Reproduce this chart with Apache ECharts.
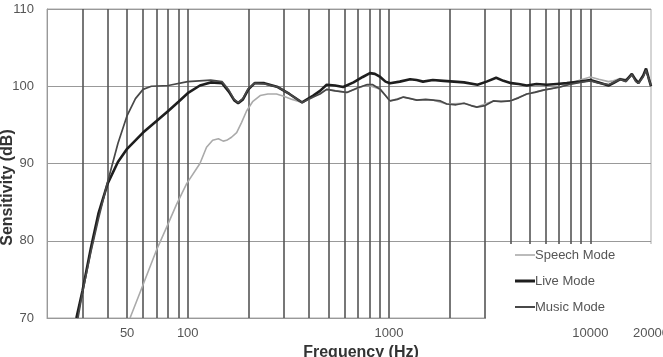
<!DOCTYPE html>
<html>
<head>
<meta charset="utf-8">
<script src="https://cdn.jsdelivr.net/npm/echarts@6/dist/echarts.min.js"></script>
<style>
  html, body { margin: 0; padding: 0; background: #fff; }
  #chart { width: 663px; height: 357px; }
</style>
</head>
<body>
<div id="chart"></div>
<script>
// [frequency Hz, sensitivity dB]
var speechData = [
  [51.7, 70], [60, 74.3], [70, 78.8], [78.7, 81.8], [88, 84.7], [98.8, 87.4], [115, 90],
  [124, 92.1], [133, 93], [142, 93.2], [150, 92.9], [156, 93], [165, 93.4], [175, 94],
  [185, 95.3], [196, 96.8], [210, 98], [229, 98.8], [250, 99], [276, 99], [300, 98.7],
  [330, 98.3], [370, 97.9], [420, 98.6], [490, 99.6], [617, 99.2], [775, 100.2], [904, 99.6],
  [1011, 98.1], [1178, 98.6], [1374, 98.2], [1660, 98.2], [1936, 97.7], [2357, 97.8],
  [2728, 97.3], [3298, 98.1], [3990, 98.1], [4832, 99], [5838, 99.5], [7068, 99.9],
  [8000, 100.4], [8888, 100.8], [10000, 101.2], [11000, 100.9], [12300, 100.6], [13000, 100.7],
  [14030, 101], [15000, 100.9], [16070, 101.4], [17330, 100.6], [18900, 101.9], [20000, 100.3]
];

var liveData = [
  [28, 70], [30, 73.5], [33, 79], [36, 83.5], [40, 87.4], [45, 90.2], [50, 91.9], [60, 94],
  [70, 95.5], [80, 96.8], [90, 98], [100, 99.1], [115, 100.1], [130, 100.5], [148, 100.4],
  [160, 99.3], [170, 98.2], [178, 97.8], [188, 98.3], [200, 99.6], [215, 100.4], [240, 100.4],
  [280, 99.9], [320, 99], [370, 97.9], [420, 98.8], [454, 99.4], [490, 100.2], [540, 100.1],
  [592, 99.9], [666, 100.5], [740, 101.2], [804, 101.7], [850, 101.6], [904, 101.2], [960, 100.6],
  [1011, 100.4], [1130, 100.6], [1272, 100.9], [1370, 100.8], [1474, 100.6], [1650, 100.8],
  [1862, 100.7], [2100, 100.6], [2357, 100.5], [2749, 100.2], [3050, 100.6], [3403, 101.1],
  [3700, 100.7], [4044, 100.4], [4400, 100.3], [4832, 100.1], [5400, 100.3], [6072, 100.2],
  [6800, 100.3], [7632, 100.4], [8888, 100.6], [10000, 100.8], [11000, 100.5], [12300, 100.1],
  [13000, 100.4], [14030, 100.9], [15000, 100.7], [16070, 101.6], [16800, 100.8], [17330, 100.4],
  [18300, 101.4], [18900, 102.3], [19500, 101], [20000, 100]
];

var musicData = [
  [28.5, 70], [30, 73.3], [33, 78.5], [36, 82.8], [40, 87.6], [45, 92.6], [50, 96.2], [55, 98.4],
  [60, 99.6], [66, 100], [80, 100.1], [100, 100.6], [130, 100.8], [148, 100.6], [160, 99.5],
  [170, 98.3], [178, 97.9], [188, 98.4], [200, 99.7], [215, 100.4], [240, 100.3], [280, 99.9],
  [320, 99], [370, 97.9], [420, 98.6], [454, 99], [490, 99.6], [540, 99.4], [617, 99.2],
  [700, 99.8], [775, 100.2], [830, 100.2], [904, 99.6], [960, 98.8], [1011, 98.1], [1100, 98.3],
  [1178, 98.6], [1280, 98.4], [1374, 98.2], [1520, 98.3], [1660, 98.2], [1800, 98.1],
  [1936, 97.7], [2150, 97.6], [2357, 97.8], [2550, 97.5], [2728, 97.3], [3000, 97.5],
  [3298, 98.1], [3600, 98], [3990, 98.1], [4400, 98.5], [4832, 99], [5300, 99.2], [5838, 99.5],
  [6400, 99.7], [7068, 99.9], [7800, 100.2], [8888, 100.5], [10000, 100.7], [11000, 100.4],
  [12300, 100.2], [13000, 100.5], [14030, 100.9], [15000, 100.6], [16070, 101.5], [16800, 100.6],
  [17330, 100.4], [18300, 101.2], [18900, 102.1], [19500, 100.9], [20000, 100.1]
];

var freqLabels = [50, 100, 1000, 10000, 20000];
var freqGrid = [30, 40, 50, 60, 70, 80, 90, 100, 200, 300, 400, 500, 600, 700, 800, 900,
  1000, 2000, 3000, 4000, 5000, 6000, 7000, 8000, 9000, 10000];

// legend line icons: a horizontal bar inside an invisible 20x14 box
function lineIcon(h) {
  var y0 = 7 - h / 2, y1 = 7 + h / 2;
  return 'path://M0,0L0,0M0,' + y0 + 'L20,' + y0 + 'L20,' + y1 + 'L0,' + y1 + 'ZM20,14L20,14';
}

var myChart = echarts.init(document.getElementById('chart'));

var option = {
  animation: false,
  grid: {
    left: 47, right: 12, top: 9, bottom: 39,
    show: true, borderColor: '#aaa', borderWidth: 1,
    outerBoundsMode: 'none'
  },
  legend: {
    data: [
      { name: 'Speech Mode', icon: lineIcon(1.6), itemStyle: { color: '#aaa' } },
      { name: 'Live Mode', icon: lineIcon(3), itemStyle: { color: '#1e1e1e' } },
      { name: 'Music Mode', icon: lineIcon(2), itemStyle: { color: '#484848' } }
    ],
    orient: 'vertical',
    left: 486, top: 244,
    padding: [4, 40, 6, 29],
    itemWidth: 20, itemHeight: 14, itemGap: 12,
    backgroundColor: '#fff',
    textStyle: { color: '#555', fontSize: 13, fontFamily: 'Liberation Sans', padding: [0, 0, 0, -5] }
  },
  xAxis: {
    type: 'log',
    logBase: 10,
    min: 20, max: 20000,
    name: 'Frequency (Hz)',
    nameLocation: 'middle',
    nameGap: 25,
    nameTextStyle: { color: '#333', fontSize: 16, fontWeight: 'bold', fontFamily: 'Liberation Sans', padding: [0, 0, 0, 24] },
    axisLine: { lineStyle: { color: '#999' } },
    axisTick: { show: false },
    splitLine: { show: false },
    axisLabel: {
      customValues: freqLabels,
      color: '#555', fontSize: 13, fontFamily: 'Liberation Sans', margin: 9,
      formatter: function (v) { return String(Math.round(v)); }
    }
  },
  yAxis: {
    type: 'value',
    min: 70, max: 110, interval: 10,
    name: 'Sensitivity (dB)',
    nameLocation: 'middle',
    nameGap: 31,
    nameMoveOverlap: false,
    nameTextStyle: { color: '#333', fontSize: 16, fontWeight: 'bold', fontFamily: 'Liberation Sans', padding: [0, 48, 0, 0] },
    axisLine: { show: true, lineStyle: { color: '#999' } },
    axisTick: { show: false },
    splitLine: { lineStyle: { color: '#999', width: 1 } },
    axisLabel: { color: '#555', fontSize: 13, fontFamily: 'Liberation Sans', margin: 13 }
  },
  series: [
    {
      name: 'grid',
      type: 'line',
      data: [],
      z: 1,
      silent: true,
      markLine: {
        z: 1,
        silent: true,
        symbol: 'none',
        animation: false,
        label: { show: false },
        lineStyle: { color: '#555', width: 1.6, type: 'solid' },
        data: freqGrid.map(function (f) { return { xAxis: f }; })
      }
    },
    {
      name: 'Speech Mode',
      type: 'line',
      data: speechData,
      showSymbol: false,
      symbol: 'none',
      z: 3,
      lineStyle: { color: '#aaa', width: 1.6 },
      itemStyle: { color: '#aaa' }
    },
    {
      name: 'Live Mode',
      type: 'line',
      data: liveData,
      showSymbol: false,
      symbol: 'none',
      z: 3,
      lineStyle: { color: '#1e1e1e', width: 2.6 },
      itemStyle: { color: '#1e1e1e' }
    },
    {
      name: 'Music Mode',
      type: 'line',
      data: musicData,
      showSymbol: false,
      symbol: 'none',
      z: 3,
      lineStyle: { color: '#484848', width: 1.7 },
      itemStyle: { color: '#484848' }
    }
  ]
};

myChart.setOption(option);
</script>
</body>
</html>
